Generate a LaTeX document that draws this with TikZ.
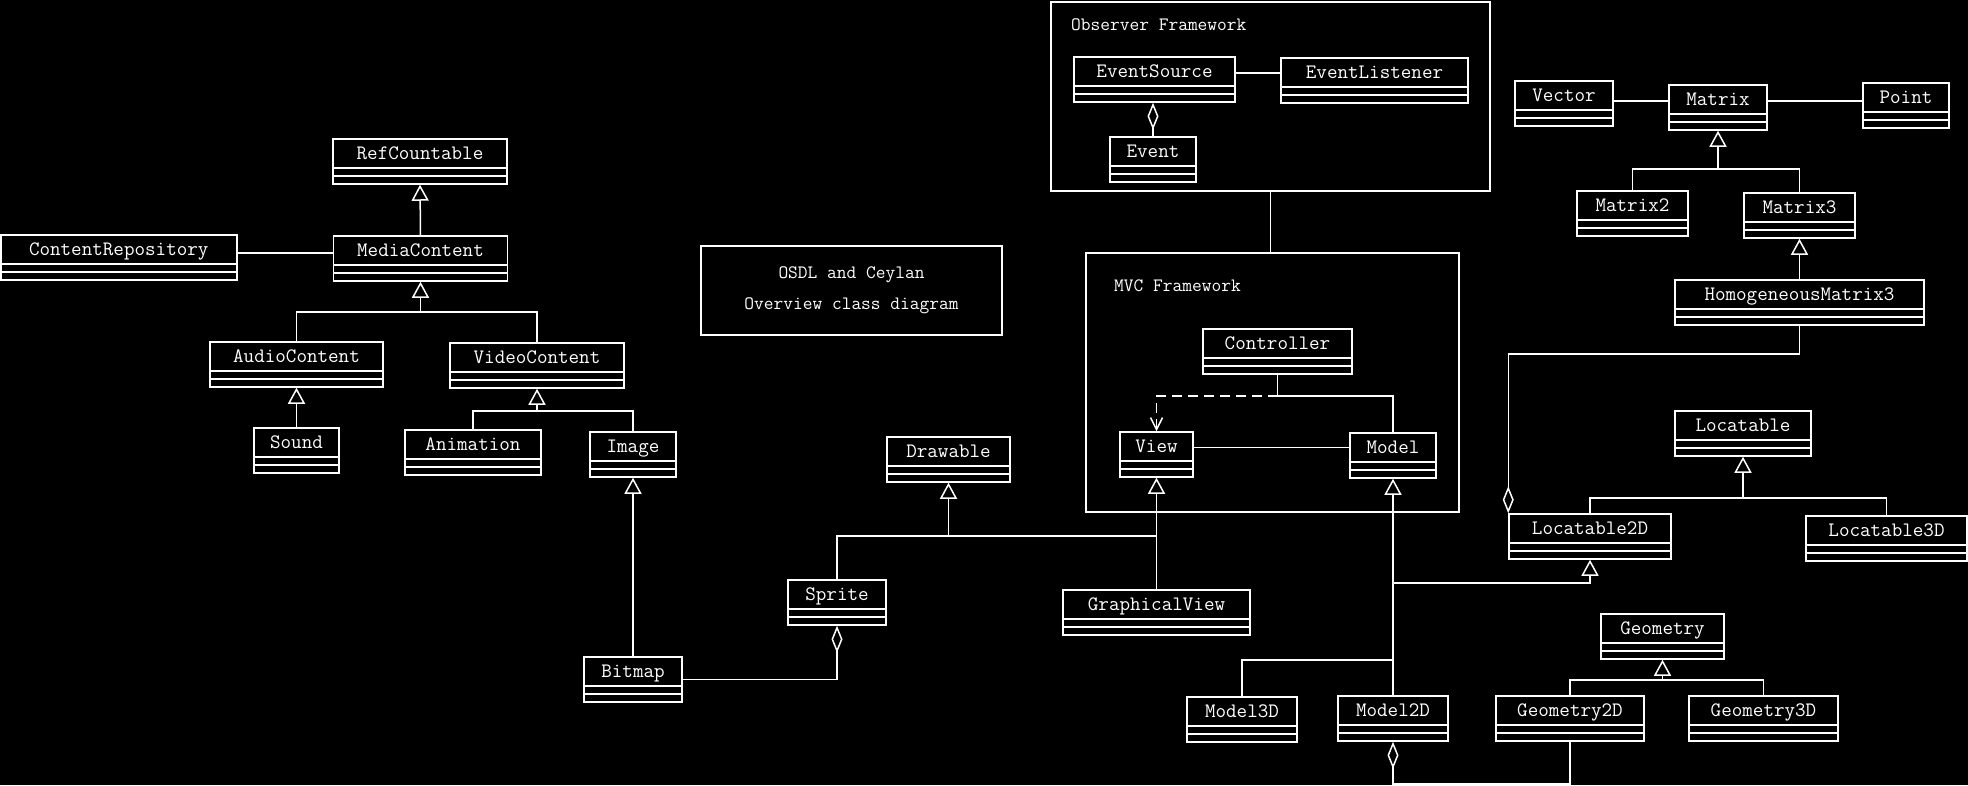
\documentclass[tikz,border=0pt]{standalone}
\usepackage{fontspec}
\usetikzlibrary{arrows.meta}
\definecolor{bgcol}{RGB}{0,0,0}
\definecolor{inkcol}{RGB}{255,255,255}

\begin{document}
\begin{tikzpicture}[
  x=1pt, y=-1pt,
  every node/.style={font=\ttfamily\fontsize{20.5}{24}\selectfont, text=inkcol},
  cls/.style={draw=inkcol, line width=1.5pt, minimum height=45pt, inner sep=0pt,
    text height=20pt, text depth=25pt,
    path picture={
      \draw[inkcol, line width=1.5pt]
        ([yshift=-29pt]path picture bounding box.north west) -- ([yshift=-29pt]path picture bounding box.north east)
        ([yshift=-37pt]path picture bounding box.north west) -- ([yshift=-37pt]path picture bounding box.north east);}},
  pkg/.style={draw=inkcol, line width=1.5pt, inner sep=0pt},
  lbl/.style={font=\ttfamily\fontsize{18.9}{22}\selectfont, anchor=base west, inner sep=0pt},
  conn/.style={draw=inkcol, line width=1.5pt},
  inh/.style={conn, -{Triangle[open, length=16pt, width=17pt]}},
  agg/.style={conn, -{Diamond[open, length=27pt, width=11pt]}},
  dep/.style={conn, dash pattern=on 10pt off 6pt, -{Straight Barb[length=12pt, width=12pt]}}
]
\useasboundingbox[fill=bgcol] (0,0) rectangle (1968,785);

% ---------------- packages and title ----------------
\node[pkg, minimum width=439pt, minimum height=189pt] (observer) at (1270.5,96.5) {};
\node[lbl] (observerlbl) at (1071,30) {Observer Framework};
\node[pkg, minimum width=373pt, minimum height=259pt] (mvc) at (1272.5,382.5) {};
\node[lbl] (mvclbl) at (1114,291) {MVC Framework};
\node[pkg, line width=2pt, minimum width=301pt, minimum height=89pt, align=center,
  font=\ttfamily\fontsize{18.9}{31}\selectfont] (title) at (851.5,290.5)
  {OSDL and Ceylan\\Overview class diagram};

% ---------------- media content ----------------
\node[cls, minimum width=174pt] (refc) at (420,161.5) {RefCountable};
\node[cls, minimum width=236pt] (repo) at (118.75,257.5) {ContentRepository};
\node[cls, minimum width=174pt] (media) at (420.5,258.5) {MediaContent};
\node[cls, minimum width=173pt] (audio) at (296.5,364.5) {AudioContent};
\node[cls, minimum width=174pt] (video) at (537,365.5) {VideoContent};
\node[cls, minimum width=85pt] (sound) at (296.5,450.5) {Sound};
\node[cls, minimum width=136pt] (anim) at (473,452.5) {Animation};
\node[cls, minimum width=86pt] (image) at (633,454.5) {Image};
\node[cls, minimum width=98pt] (bitmap) at (633,679.5) {Bitmap};

% ---------------- drawing ----------------
\node[cls, minimum width=123pt] (drawable) at (948.5,459.5) {Drawable};
\node[cls, minimum width=98pt] (sprite) at (837,602.5) {Sprite};
\node[cls, minimum width=187pt] (gview) at (1156.5,612.5) {GraphicalView};

% ---------------- observer / mvc ----------------
\node[cls, minimum width=161pt] (esrc) at (1154.5,79.5) {EventSource};
\node[cls, minimum width=187pt] (elis) at (1374.5,80.5) {EventListener};
\node[cls, minimum width=86pt] (event) at (1153,159.5) {Event};
\node[cls, minimum width=149pt] (ctrl) at (1277.5,351.5) {Controller};
\node[cls, minimum width=73pt] (view) at (1156.5,454.5) {View};
\node[cls, minimum width=86pt] (model) at (1393,455.5) {Model};
\node[cls, minimum width=110pt] (model3d) at (1242,719.5) {Model3D};
\node[cls, minimum width=110pt] (model2d) at (1393,718.5) {Model2D};

% ---------------- maths ----------------
\node[cls, minimum width=98pt] (vector) at (1564,103.5) {Vector};
\node[cls, minimum width=98pt] (matrix) at (1718,107.5) {Matrix};
\node[cls, minimum width=86pt] (point) at (1906,105.5) {Point};
\node[cls, minimum width=111pt] (matrix2) at (1632.5,213.5) {Matrix2};
\node[cls, minimum width=111pt] (matrix3) at (1799.5,215.5) {Matrix3};
\node[cls, minimum width=249pt] (hmatrix) at (1799.5,302.5) {HomogeneousMatrix3};
\node[cls, minimum width=136pt] (loc) at (1743,433.5) {Locatable};
\node[cls, minimum width=162pt] (loc2d) at (1590,536.5) {Locatable2D};
\node[cls, minimum width=161pt] (loc3d) at (1886.5,538.5) {Locatable3D};
\node[cls, minimum width=123pt] (geo) at (1662.5,636.5) {Geometry};
\node[cls, minimum width=148pt] (geo2d) at (1570,718.5) {Geometry2D};
\node[cls, minimum width=149pt] (geo3d) at (1763.5,718.5) {Geometry3D};

% ---------------- connectors: media content ----------------
\draw[inh] (media.north) -- (refc.south);
\draw[conn] (repo.east |- 0,253) -- (media.west |- 0,253);
\coordinate (mfork) at (420.5,312);
\draw[conn] (audio.north) |- (mfork) -| (video.north);
\draw[inh] (mfork) -- (media.south);
\draw[inh] (sound.north) -- (audio.south);
\coordinate (vfork) at (537,411);
\draw[conn] (anim.north) |- (vfork) -| (image.north);
\draw[inh] (vfork) -- (video.south);
\draw[inh] (bitmap.north) -- (image.south);
\draw[agg] (bitmap.east) -| (sprite.south);

% ---------------- connectors: drawing ----------------
\coordinate (dfork) at (948.5,536);
\draw[conn] (sprite.north) |- (dfork) -- (dfork -| gview.north);
\draw[inh] (dfork) -- (drawable.south);
\draw[inh] (gview.north) -- (view.south);

% ---------------- connectors: observer / mvc ----------------
\draw[conn] (esrc.east |- 0,73) -- (elis.west |- 0,73);
\draw[agg] (event.north) -- (event.north |- esrc.south);
\draw[conn] (observer.south) -- (observer.south |- mvc.north);
\coordinate (cfork) at (1277.5,396);
\draw[conn] (ctrl.south) -- (cfork) -| (model.north);
\draw[dep] (cfork) -| (view.north);
\draw[conn] ([yshift=7pt]view.east) -- ([yshift=7pt]view.east -| model.west);
\draw[inh] (model2d.north) -- (model.south);
\draw[conn] (model3d.north) |- (model2d.north |- 0,660);
\draw[inh] (model2d.north |- 0,583) -| (loc2d.south);

% ---------------- connectors: maths ----------------
\draw[conn] (vector.east |- 0,101) -- (matrix.west |- 0,101);
\draw[conn] (matrix.east |- 0,101) -- (point.west |- 0,101);
\coordinate (xfork) at (1718,169);
\draw[conn] (matrix2.north) |- (xfork) -| (matrix3.north);
\draw[inh] (xfork) -- (matrix.south);
\draw[inh] (hmatrix.north) -- (matrix3.south);
\draw[agg] (hmatrix.south) -- ++(0,28) -| (loc2d.north west);
\coordinate (lfork) at (1743,498);
\draw[conn] (loc2d.north) |- (lfork) -| (loc3d.north);
\draw[inh] (lfork) -- (loc.south);
\coordinate (gfork) at (1662.5,680);
\draw[conn] (geo2d.north) |- (gfork) -| (geo3d.north);
\draw[inh] (gfork) -- (geo.south);
\draw[agg] (geo2d.south) -- ++(0,42) -| (model2d.south);

\end{tikzpicture}
\end{document}
